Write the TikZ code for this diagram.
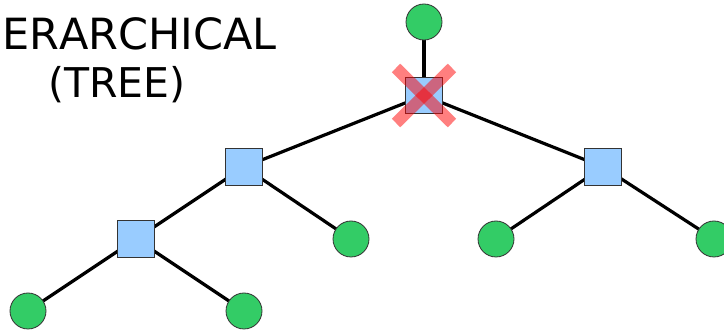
\documentclass[tikz,border=0pt]{standalone}
\usepackage{fontspec}
\setmainfont{DejaVu Sans}[Kerning=Off]
\begin{document}
\begin{tikzpicture}[x=1pt,y=-1pt,
  leaf/.style={circle,draw=black!80,line width=0.8pt,fill=leafgreen,minimum size=36pt,inner sep=0pt},
  hub/.style={rectangle,draw=black!80,line width=0.8pt,fill=hubblue,minimum size=36.5pt,inner sep=0pt},
  link/.style={line width=3.2pt,black},
  cross/.style={line width=12pt,red,opacity=0.5,line cap=butt},
  title/.style={inner sep=0pt,font=\fontsize{41}{48}\selectfont}]
\definecolor{leafgreen}{HTML}{33CC66}
\definecolor{hubblue}{HTML}{99CCFF}
\useasboundingbox (0,0) rectangle (724,331);
\node[title,anchor=base east,font=\fontsize{43}{50}\selectfont] (t1) at (277,50) {ERARCHICAL};
\node[title,anchor=base] (t2) at (116.7,98) {(TREE)};
% node positions
\coordinate (pTop) at (424,22);
\coordinate (pRoot) at (424,95.5);
\coordinate (pL) at (244,167);
\coordinate (pR) at (603,167);
\coordinate (pLL) at (136,239);
\coordinate (pLR) at (351,239);
\coordinate (pRL) at (496,239);
\coordinate (pRR) at (714,239);
\coordinate (pLLL) at (28,311);
\coordinate (pLLR) at (244,311);
% connectors
\draw[link] (pTop) -- (pRoot);
\draw[link] (pRoot) -- (pL);
\draw[link] (pRoot) -- (pR);
\draw[link] (pL) -- (pLL);
\draw[link] (pL) -- (pLR);
\draw[link] (pR) -- (pRL);
\draw[link] (pR) -- (pRR);
\draw[link] (pLL) -- (pLLL);
\draw[link] (pLL) -- (pLLR);
% nodes
\node[leaf] (top) at (pTop) {};
\node[hub] (root) at (pRoot) {};
\node[hub] (l) at (pL) {};
\node[hub] (r) at (pR) {};
\node[hub] (ll) at (pLL) {};
\node[leaf] (lr) at (pLR) {};
\node[leaf] (rl) at (pRL) {};
\node[leaf] (rr) at (pRR) {};
\node[leaf] (lll) at (pLLL) {};
\node[leaf] (llr) at (pLLR) {};
% cross over the root
\draw[cross] ([shift={(-28,-27.5)}]root.center) -- ([shift={(28,27.5)}]root.center);
\draw[cross] ([shift={(28,-27.5)}]root.center) -- ([shift={(-28,27.5)}]root.center);
\end{tikzpicture}
\end{document}
